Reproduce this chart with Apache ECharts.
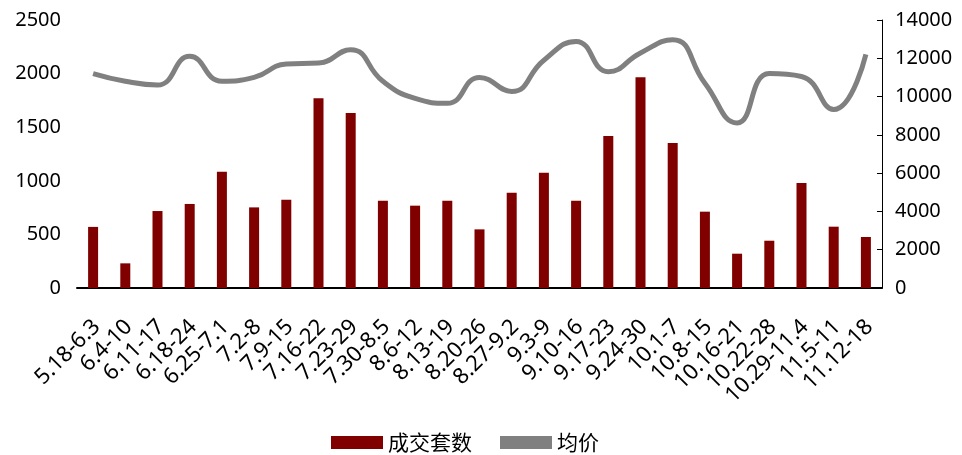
<!DOCTYPE html>
<html>
<head>
<meta charset="utf-8">
<script src="https://cdn.jsdelivr.net/npm/echarts@6/dist/echarts.min.js"></script>
<style>
  html, body { margin: 0; padding: 0; background: #fff; }
  #chart { width: 962px; height: 455px; }
</style>
</head>
<body>
<div id="chart"></div>
<script>
  var categories = ['5.18-6.3', '6.4-10', '6.11-17', '6.18-24', '6.25-7.1', '7.2-8', '7.9-15', '7.16-22',
    '7.23-29', '7.30-8.5', '8.6-12', '8.13-19', '8.20-26', '8.27-9.2', '9.3-9', '9.10-16', '9.17-23',
    '9.24-30', '10.1-7', '10.8-15', '10.16-21', '10.22-28', '10.29-11.4', '11.5-11', '11.12-18'];
  // 成交套数 (left axis)
  var volume = [570, 230, 718, 784, 1085, 752, 824, 1769, 1632, 814, 768, 814, 547,
    889, 1076, 814, 1418, 1965, 1353, 712, 320, 441, 979, 572, 476];
  // 均价 (right axis)
  var avgPrice = [11200, 10800, 10600, 12100, 10800, 11000, 11700, 11750, 12450, 10800, 9900, 9650, 11000,
    10270, 11900, 12880, 11300, 12280, 12970, 10700, 8620, 11200, 11050, 9320, 12200];
  var leftTicks = [0, 500, 1000, 1500, 2000, 2500];
  var rightTicks = [0, 2000, 4000, 6000, 8000, 10000, 12000, 14000];

  var plain = function (v) { return String(v); };

  var chart = echarts.init(document.getElementById('chart'));
  chart.setOption({
    animation: false,
    textStyle: { fontFamily: 'Noto Sans' },
    grid: { left: 77, right: 80, top: 20, bottom: 167 },
    legend: {
      bottom: -3,
      left: 326,
      itemWidth: 52,
      itemHeight: 13,
      itemGap: 28,
      textStyle: { fontSize: 21, color: '#000', fontFamily: 'Noto Sans CJK SC' },
      data: [
        { name: '成交套数', icon: 'rect' },
        { name: '均价', icon: 'rect' }
      ]
    },
    xAxis: {
      type: 'category',
      data: categories,
      axisLine: { lineStyle: { color: '#000', width: 2 } },
      axisTick: { show: false },
      axisLabel: {
        rotate: 45, fontSize: 20, color: '#000', interval: 0, margin: 12,
        formatter: function (v) { return '{a|' + v + '}'; },
        rich: { a: { fontSize: 22, color: '#000', padding: [38, 14, 0, 0] } }
      }
    },
    yAxis: [
      {
        type: 'value',
        min: leftTicks[0],
        max: leftTicks[leftTicks.length - 1],
        interval: 500,
        splitLine: { show: false },
        axisLine: { show: false },
        axisTick: { show: false },
        axisLabel: { fontSize: 20, color: '#000', margin: 16, formatter: plain }
      },
      {
        type: 'value',
        min: rightTicks[0],
        max: rightTicks[rightTicks.length - 1],
        interval: 2000,
        position: 'right',
        splitLine: { show: false },
        axisLine: { show: true, lineStyle: { color: '#000', width: 1 } },
        axisTick: { show: true, inside: true, length: 5, lineStyle: { color: '#000' } },
        axisLabel: { fontSize: 20, color: '#000', margin: 13, formatter: plain }
      }
    ],
    series: [
      {
        name: '成交套数',
        type: 'bar',
        data: volume,
        barWidth: 10,
        itemStyle: { color: '#800000' }
      },
      {
        name: '均价',
        type: 'line',
        yAxisIndex: 1,
        data: avgPrice,
        smooth: 0.5,
        symbol: 'none',
        lineStyle: { color: '#808080', width: 5 },
        itemStyle: { color: '#808080' }
      }
    ]
  });
</script>
</body>
</html>
